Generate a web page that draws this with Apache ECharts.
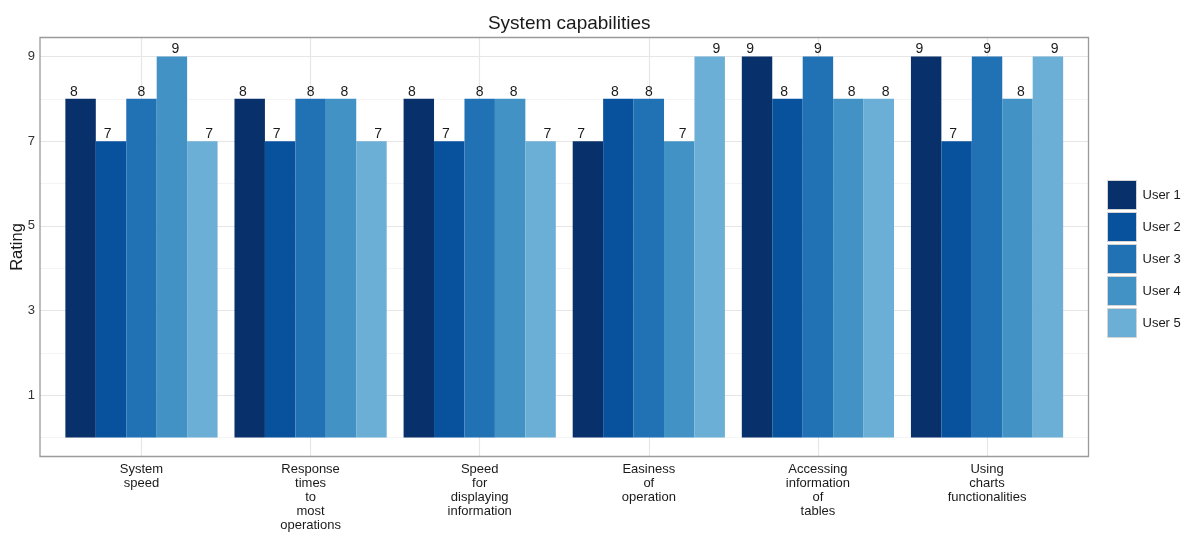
<!DOCTYPE html>
<html>
<head>
<meta charset="utf-8">
<title>System capabilities</title>
<script src="https://cdn.jsdelivr.net/npm/echarts@6/dist/echarts.min.js"></script>
<style>
  html, body { margin: 0; padding: 0; background: #ffffff; }
  #chart { width: 1190px; height: 534px; }
</style>
</head>
<body>
<div id="chart"></div>
<script>
// Capability categories (line breaks shape the wrapped axis labels)
const categories = [
  'System\nspeed',
  'Response\ntimes\nto\nmost\noperations',
  'Speed\nfor\ndisplaying\ninformation',
  'Easiness\nof\noperation',
  'Accessing\ninformation\nof\ntables',
  'Using\ncharts\nfunctionalities'
];

// Ratings given by each user, one value per category
const user1 = [8, 8, 8, 7, 9, 9];
const user2 = [7, 7, 7, 8, 8, 7];
const user3 = [8, 8, 8, 8, 9, 9];
const user4 = [9, 8, 8, 7, 8, 8];
const user5 = [7, 7, 7, 9, 8, 9];

const userNames = ['User 1', 'User 2', 'User 3', 'User 4', 'User 5'];
const userValues = [user1, user2, user3, user4, user5];

// Rating axis ticks and the lighter in-between grid lines
const ratingTicks = [1, 3, 5, 7, 9];
const minorTicks = [0, 2, 4, 6, 8];
// Vertical grid positions (1-based category positions on the panel axis)
const categoryPositions = [1, 2, 3, 4, 5, 6];

const palette = ['#08306B', '#08519C', '#2171B5', '#4292C6', '#6BAED6'];
const FONT = '"Liberation Sans", Arial, sans-serif';

// Panel geometry: discrete axis spans 0.4 .. n + 0.6
const panelLeft = 40, panelRight = 1088.5, panelTop = 37.5, panelBottom = 456.5;
const unit = (panelRight - panelLeft) / (categories.length + 0.2);
const barGridLeft = panelLeft + 0.1 * unit;
const barGridRight = 1190 - (barGridLeft + categories.length * unit);

const yRange = { min: -0.45, max: 9.45 };

const chart = echarts.init(document.getElementById('chart'), null, { renderer: 'canvas' });

const barSeries = userNames.map((name, i) => ({
  name: name,
  type: 'bar',
  xAxisIndex: 1,
  yAxisIndex: 1,
  data: userValues[i],
  barGap: '0%',
  barCategoryGap: '10%',
  itemStyle: { color: palette[i] },
  z: 3,
  label: {
    show: true,
    position: 'top',
    distance: 0,
    offset: [(i - 2) * 3.4, 0],
    fontFamily: FONT,
    fontSize: 14,
    color: '#1a1a1a'
  }
}));

// Grid lines drawn on the full panel, behind the bars
const gridSeries = {
  type: 'line',
  xAxisIndex: 0,
  yAxisIndex: 0,
  data: [],
  silent: true,
  z: 1,
  markLine: {
    z: 1,
    silent: true,
    symbol: 'none',
    animation: false,
    label: { show: false },
    data: [
      ...minorTicks.map(v => ({ yAxis: v, lineStyle: { color: '#f4f4f4', width: 1, type: 'solid' } })),
      ...ratingTicks.map(v => ({ yAxis: v, lineStyle: { color: '#e6e6e6', width: 1.2, type: 'solid' } })),
      ...categoryPositions.map(v => ({ xAxis: v, lineStyle: { color: '#e6e6e6', width: 1.2, type: 'solid' } }))
    ]
  }
};

const option = {
  animation: false,
  backgroundColor: '#ffffff',
  title: {
    text: 'System capabilities',
    left: (panelLeft + panelRight) / 2,
    textAlign: 'center',
    top: 9,
    textStyle: { fontFamily: FONT, fontSize: 19, fontWeight: 'normal', color: '#1a1a1a' }
  },
  legend: {
    data: userNames,
    orient: 'vertical',
    left: 1107,
    top: 180,
    padding: 0,
    itemWidth: 29,
    itemHeight: 29,
    itemGap: 2,
    icon: 'rect',
    itemStyle: { borderColor: '#d4d4d4', borderWidth: 1 },
    textStyle: { fontFamily: FONT, fontSize: 13, color: '#1a1a1a', padding: [0, 0, 0, 1] }
  },
  grid: [
    {
      left: panelLeft,
      right: 1190 - panelRight,
      top: panelTop,
      bottom: 534 - panelBottom,
      containLabel: false,
      outerBoundsMode: 'none',
      show: true,
      borderColor: '#9a9a9a',
      borderWidth: 1.3,
      backgroundColor: 'transparent',
      z: 4
    },
    {
      left: barGridLeft,
      right: barGridRight,
      top: panelTop,
      bottom: 534 - panelBottom,
      containLabel: false,
      outerBoundsMode: 'none'
    }
  ],
  xAxis: [
    {
      type: 'value',
      gridIndex: 0,
      min: 0.4,
      max: categories.length + 0.6,
      show: false
    },
    {
      type: 'category',
      gridIndex: 1,
      data: categories,
      axisLine: { show: false },
      axisTick: { show: false },
      splitLine: { show: false },
      axisLabel: {
        interval: 0,
        margin: 6,
        fontFamily: FONT,
        fontSize: 13,
        lineHeight: 14,
        color: '#1a1a1a',
        align: 'center'
      }
    }
  ],
  yAxis: [
    {
      type: 'value',
      gridIndex: 0,
      min: yRange.min,
      max: yRange.max,
      name: 'Rating',
      nameLocation: 'middle',
      nameGap: 14,
      nameMoveOverlap: false,
      nameRotate: 90,
      nameTextStyle: { fontFamily: FONT, fontSize: 16.5, color: '#1a1a1a' },
      axisLine: { show: false },
      axisTick: { show: false },
      splitLine: { show: false },
      axisLabel: {
        customValues: ratingTicks,
        margin: 5,
        fontFamily: FONT,
        fontSize: 13,
        color: '#333333'
      }
    },
    {
      type: 'value',
      gridIndex: 1,
      min: yRange.min,
      max: yRange.max,
      show: false
    }
  ],
  series: [gridSeries, ...barSeries]
};

chart.setOption(option);
</script>
</body>
</html>
